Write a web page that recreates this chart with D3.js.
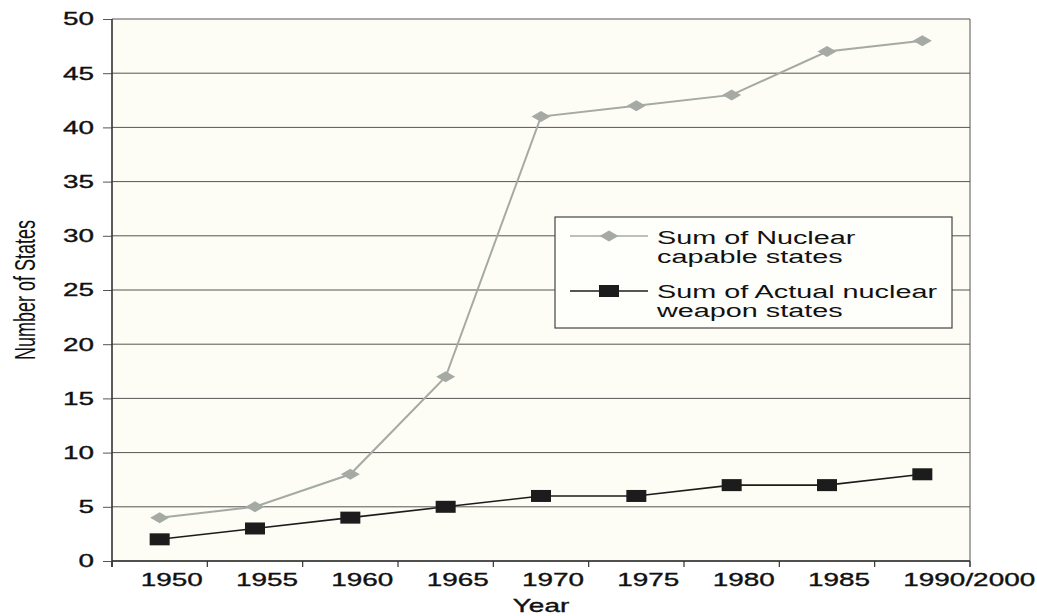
<!DOCTYPE html>
<html><head><meta charset="utf-8">
<script src="https://cdn.jsdelivr.net/npm/d3@7"></script>
<style>
html,body{margin:0;padding:0;background:#fff;}
svg text{font-family:"Liberation Sans",Arial,Helvetica,sans-serif;}
</style></head>
<body>
<svg id="chart" width="1037" height="616"></svg>
<script>
const categories = ["1950","1955","1960","1965","1970","1975","1980","1985","1990/2000"];
const capableStates = [4, 5, 8, 17, 41, 42, 43, 47, 48];
const actualStates = [2, 3, 4, 5, 6, 6, 7, 7, 8];
const yTicks = [0,5,10,15,20,25,30,35,40,45,50];
const seriesNames = ["Sum of Nuclear|capable states", "Sum of Actual nuclear|weapon states"];

const SX = 1.55; // horizontal glyph stretch of the reference
const svg = d3.select("#chart");
const m = {left:112, right:970, top:19, bottom:561};

const x = d3.scaleBand().domain(categories).range([m.left, m.right]).padding(0);
const y = d3.scaleLinear().domain([0,50]).range([m.bottom, m.top]);

// plot background
svg.append("rect").attr("x", m.left).attr("y", m.top)
  .attr("width", m.right-m.left).attr("height", m.bottom-m.top)
  .attr("fill", "#fdfdf5");

// gridlines + left ticks
const yAxis = svg.append("g").attr("transform", `translate(${m.left},0)`)
  .call(d3.axisLeft(y).tickValues(yTicks).tickSize(9).tickFormat(""));
yAxis.select(".domain").remove();
yAxis.selectAll(".tick line").attr("stroke", "#555").attr("stroke-width", 1);
svg.append("g").selectAll("line").data(yTicks).join("line")
  .attr("x1", m.left).attr("x2", m.right)
  .attr("y1", d => y(d)).attr("y2", d => y(d))
  .attr("stroke", "#555").attr("stroke-width", 1);

// y tick labels
svg.append("g").selectAll("text").data(yTicks).join("text")
  .attr("transform", d => `translate(94,${y(d)}) scale(${SX},1)`)
  .attr("text-anchor", "end").attr("dy", "0.36em")
  .attr("font-size", 18).attr("fill", "#111")
  .attr("stroke", "#111").attr("stroke-width", 0.35)
  .text(d => d);

// right border
svg.append("line").attr("x1", m.right).attr("x2", m.right)
  .attr("y1", m.top).attr("y2", m.bottom+6).attr("stroke", "#555").attr("stroke-width", 1);

// x axis
const xTickPos = categories.map(c => x(c)).concat([x.range()[1]]);
svg.append("g").selectAll("line").data(xTickPos).join("line")
  .attr("x1", d => d).attr("x2", d => d)
  .attr("y1", m.bottom).attr("y2", m.bottom+6)
  .attr("stroke", "#333").attr("stroke-width", 1.2);
svg.append("line").attr("x1", m.left).attr("x2", m.right)
  .attr("y1", m.bottom).attr("y2", m.bottom).attr("stroke", "#333").attr("stroke-width", 1.3);
// left axis line
svg.append("line").attr("x1", m.left).attr("x2", m.left)
  .attr("y1", m.top).attr("y2", m.bottom+6).attr("stroke", "#333").attr("stroke-width", 1.6);

svg.append("g").selectAll("text").data(categories).join("text")
  .attr("transform", d => `translate(${x(d)+x.bandwidth()/2-19},586) scale(${SX},1)`)
  .attr("text-anchor", "start")
  .attr("font-size", 18).attr("fill", "#111")
  .attr("stroke", "#111").attr("stroke-width", 0.35)
  .text(d => d);

// axis titles
svg.append("text").attr("transform", `translate(${(m.left+m.right)/2},612) scale(${SX},1)`)
  .attr("text-anchor", "middle").attr("font-size", 18).attr("fill", "#111")
  .attr("stroke", "#111").attr("stroke-width", 0.35).text("Year");
svg.append("text").attr("transform", `translate(35,290) scale(1.65,1) rotate(-90)`)
  .attr("text-anchor", "middle").attr("font-size", 18).attr("fill", "#111")
  .text("Number of States");

// series
const cx = d => x(d) + x.bandwidth()/2;
const line = d3.line().x(d => cx(d[0])).y(d => y(d[1]));
const capData = categories.map((c,i) => [c, capableStates[i]]);
const actData = categories.map((c,i) => [c, actualStates[i]]);

const diamond = (g, px, py) => g.append("path")
  .attr("d", `M${px-9.5},${py} L${px},${py-5.5} L${px+9.5},${py} L${px},${py+5.5} Z`)
  .attr("fill", "#a6aaa4");
const square = (g, px, py) => g.append("rect")
  .attr("x", px-10).attr("y", py-6).attr("width", 20).attr("height", 12)
  .attr("fill", "#1c1c1c");

const gCap = svg.append("g");
gCap.append("path").datum(capData).attr("d", line)
  .attr("fill", "none").attr("stroke", "#a6aaa4").attr("stroke-width", 2);
capData.forEach(d => diamond(gCap, cx(d[0]), y(d[1])));

const gAct = svg.append("g");
gAct.append("path").datum(actData).attr("d", line)
  .attr("fill", "none").attr("stroke", "#1c1c1c").attr("stroke-width", 1.6);
actData.forEach(d => square(gAct, cx(d[0]), y(d[1])));

// legend
const lg = svg.append("g");
lg.append("rect").attr("x", 555).attr("y", 217).attr("width", 397).attr("height", 111)
  .attr("fill", "#fefefb").attr("stroke", "#444").attr("stroke-width", 1.2);
lg.append("line").attr("x1", 570).attr("x2", 648).attr("y1", 236).attr("y2", 236)
  .attr("stroke", "#a6aaa4").attr("stroke-width", 1.6);
diamond(lg, 609, 236);
lg.append("line").attr("x1", 570).attr("x2", 648).attr("y1", 291).attr("y2", 291)
  .attr("stroke", "#1c1c1c").attr("stroke-width", 1.6);
square(lg, 609, 291);
const legendY = [244, 298];
seriesNames.forEach((n, i) => {
  const t = lg.append("text").attr("transform", `translate(657,${legendY[i]}) scale(1.6,1)`)
    .attr("font-size", 18).attr("fill", "#111");
  n.split("|").forEach((s, j) => t.append("tspan").attr("x", 0).attr("dy", j ? 19.5 : 0).text(s));
});
</script>
</body></html>
